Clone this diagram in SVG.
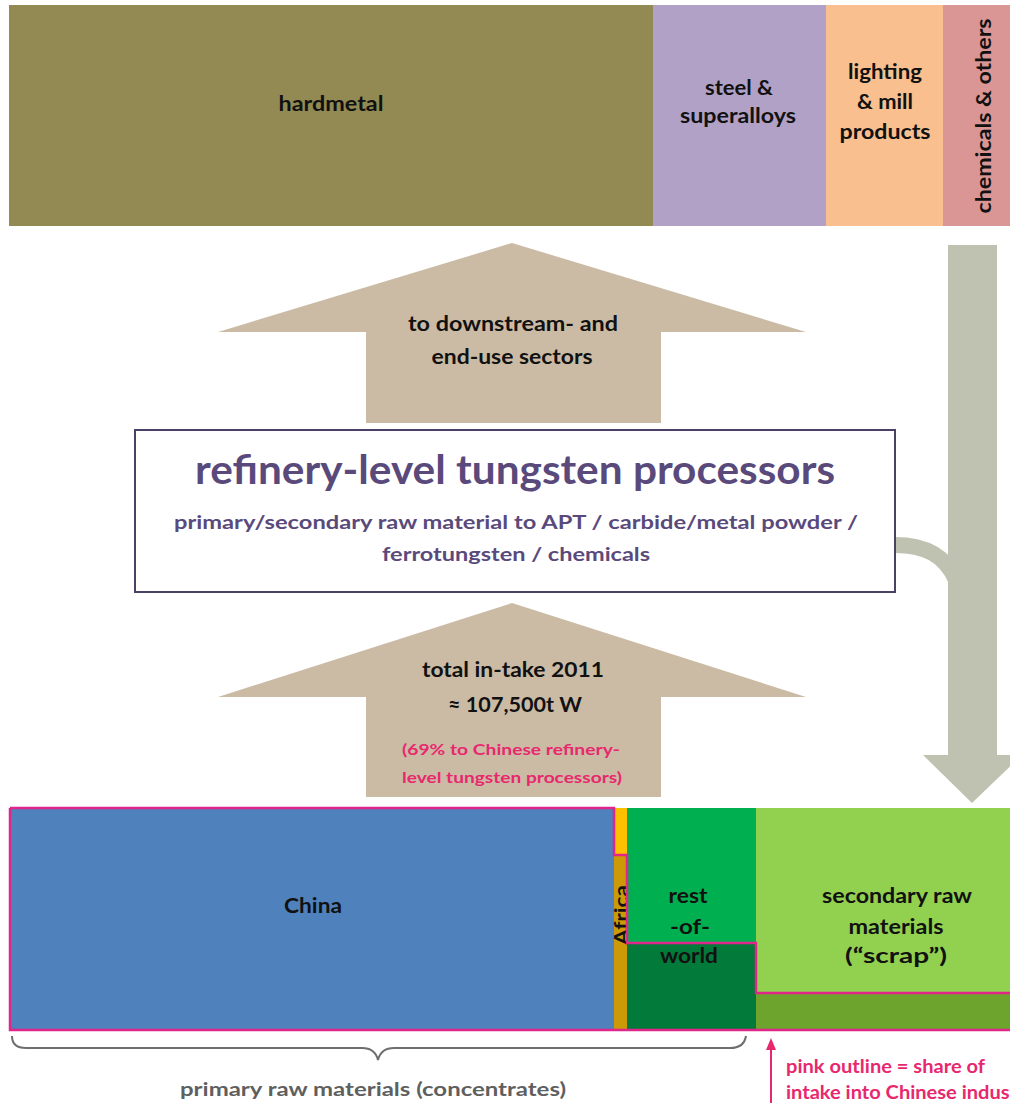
<svg xmlns="http://www.w3.org/2000/svg" width="1010" height="1103" viewBox="0 0 1010 1103">
<style>
.lbl{font-family:Lato,"Open Sans","Liberation Sans",sans-serif;font-weight:bold;fill:#111;text-anchor:middle;font-size:20px}
.pur{font-family:Lato,"Open Sans","Liberation Sans",sans-serif;font-weight:bold;fill:#5a4a7c;text-anchor:middle}
.pink{font-family:Lato,"Open Sans","Liberation Sans",sans-serif;font-weight:bold;fill:#e8286e}
.tan{fill:#cbbba5}
</style>
<rect width="1010" height="1103" fill="#fff"/>

<g id="top-sectors">
<g id="hardmetal"><rect x="9" y="5" width="644" height="221" fill="#938a53"/><text class="lbl" x="331" y="111" textLength="105" lengthAdjust="spacingAndGlyphs">hardmetal</text></g>
<g id="steel"><rect x="653" y="5" width="173" height="221" fill="#b1a1c6"/><text class="lbl" x="739" y="95" textLength="68" lengthAdjust="spacingAndGlyphs">steel &amp;</text><text class="lbl" x="738" y="123" textLength="116" lengthAdjust="spacingAndGlyphs">superalloys</text></g>
<g id="lighting"><rect x="826" y="5" width="117" height="221" fill="#f9bf8f"/><text class="lbl" x="885" y="79" textLength="74" lengthAdjust="spacingAndGlyphs">lighting</text><text class="lbl" x="885" y="109" textLength="56" lengthAdjust="spacingAndGlyphs">&amp; mill</text><text class="lbl" x="885" y="139" textLength="91" lengthAdjust="spacingAndGlyphs">products</text></g>
<g id="chemicals"><rect x="943" y="5" width="67" height="221" fill="#d99694"/><text class="lbl" transform="translate(991,116) rotate(-90)" textLength="195" lengthAdjust="spacingAndGlyphs">chemicals &amp; others</text></g>
</g>

<g id="connectors">
<g id="arrow-down-recycle">
<path d="M895,545 C925,545 945,555 956,580" fill="none" stroke="#bfc2b0" stroke-width="16"/>
<path d="M948,245 L997,245 L997,755 L1022,755 L972,803 L923,755 L948,755 Z" fill="#bfc2b0"/>
</g>
<g id="arrow-up-downstream">
<path class="tan" d="M512,243 L806,332 L661,332 L661,423 L366,423 L366,332 L218,332 Z"/>
<text class="lbl" x="513" y="331" textLength="210" lengthAdjust="spacingAndGlyphs">to downstream- and</text>
<text class="lbl" x="512" y="364" textLength="161" lengthAdjust="spacingAndGlyphs">end-use sectors</text>
</g>
<g id="arrow-up-intake">
<path class="tan" d="M512,603 L806,697 L661,697 L661,797 L366,797 L366,697 L218,697 Z"/>
<text class="lbl" x="513" y="677" textLength="182" lengthAdjust="spacingAndGlyphs">total in-take 2011</text>
<text class="lbl" x="515" y="712" textLength="134" lengthAdjust="spacingAndGlyphs">≈ 107,500t  W</text>
<text class="pink" x="511" y="755" font-size="15" text-anchor="middle" textLength="218" lengthAdjust="spacingAndGlyphs">(69% to Chinese refinery-</text>
<text class="pink" x="512" y="783" font-size="15" text-anchor="middle" textLength="220" lengthAdjust="spacingAndGlyphs">level tungsten processors)</text>
</g>
<g id="pink-pointer">
<line x1="771" y1="1103" x2="771" y2="1048" stroke="#e8286e" stroke-width="2"/>
<path d="M766,1050 L771,1038 L776,1050 Z" fill="#e8286e"/>
</g>
</g>

<g id="refinery-box">
<rect x="135" y="430" width="760" height="162" fill="#fff" stroke="#4b4066" stroke-width="2"/>
<text class="pur" x="515" y="484" font-size="40" textLength="640" lengthAdjust="spacingAndGlyphs">refinery-level tungsten processors</text>
<text class="pur" x="516" y="529" font-size="19" textLength="684" lengthAdjust="spacingAndGlyphs">primary/secondary raw material to APT / carbide/metal powder /</text>
<text class="pur" x="516" y="561" font-size="19" textLength="268" lengthAdjust="spacingAndGlyphs">ferrotungsten / chemicals</text>
</g>

<g id="bottom-sources">
<g id="china"><rect x="10" y="808" width="604" height="222" fill="#4f81bd"/><text class="lbl" x="313" y="913" textLength="58" lengthAdjust="spacingAndGlyphs">China</text></g>
<g id="africa">
<rect x="614" y="808" width="13" height="47" fill="#ffc000"/>
<rect x="614" y="855" width="13" height="175" fill="#cc9a06"/>
<text class="lbl" transform="translate(628,915) rotate(-90)" font-size="18" textLength="60" lengthAdjust="spacingAndGlyphs" style="font-size:18px">Africa</text>
</g>
<g id="rest-of-world">
<rect x="627" y="808" width="129" height="135" fill="#00b050"/>
<rect x="627" y="943" width="129" height="87" fill="#027a39"/>
<text class="lbl" x="688" y="903" textLength="39" lengthAdjust="spacingAndGlyphs">rest</text>
<text class="lbl" x="690" y="934" textLength="40" lengthAdjust="spacingAndGlyphs">-of-</text>
<text class="lbl" x="689" y="963" textLength="58" lengthAdjust="spacingAndGlyphs">world</text>
</g>
<g id="secondary">
<rect x="756" y="808" width="254" height="185" fill="#92d050"/>
<rect x="756" y="993" width="254" height="37" fill="#6da42e"/>
<text class="lbl" x="897" y="903" textLength="150" lengthAdjust="spacingAndGlyphs">secondary raw</text>
<text class="lbl" x="896" y="934" textLength="95" lengthAdjust="spacingAndGlyphs">materials</text>
<text class="lbl" x="896" y="963" textLength="102" lengthAdjust="spacingAndGlyphs">(“scrap”)</text>
</g>
<path id="pink-outline" d="M10,808 L614,808 L614,855 L627,855 L627,943 L756,943 L756,993 L1012,993 M10,808 L10,1030 L1012,1030" fill="none" stroke="#e0268a" stroke-width="2.5"/>
</g>

<g id="primary-brace">
<path d="M12,1036 Q12,1048 26,1048 L362,1048 Q375,1048 378,1060 Q381,1048 394,1048 L730,1048 Q744,1048 746,1036" fill="none" stroke="#6e6e6e" stroke-width="2"/>
<text x="373" y="1096" font-family="Lato,'Open Sans','Liberation Sans',sans-serif" font-weight="bold" font-size="19" fill="#5f5f5f" text-anchor="middle" textLength="386" lengthAdjust="spacingAndGlyphs">primary raw materials (concentrates)</text>
</g>

<g id="legend-note">
<text class="pink" x="786" y="1073" font-size="19" textLength="199" lengthAdjust="spacingAndGlyphs">pink outline = share of</text>
<text class="pink" x="786" y="1099" font-size="19" textLength="249" lengthAdjust="spacingAndGlyphs">intake into Chinese industry</text>
</g>
</svg>
